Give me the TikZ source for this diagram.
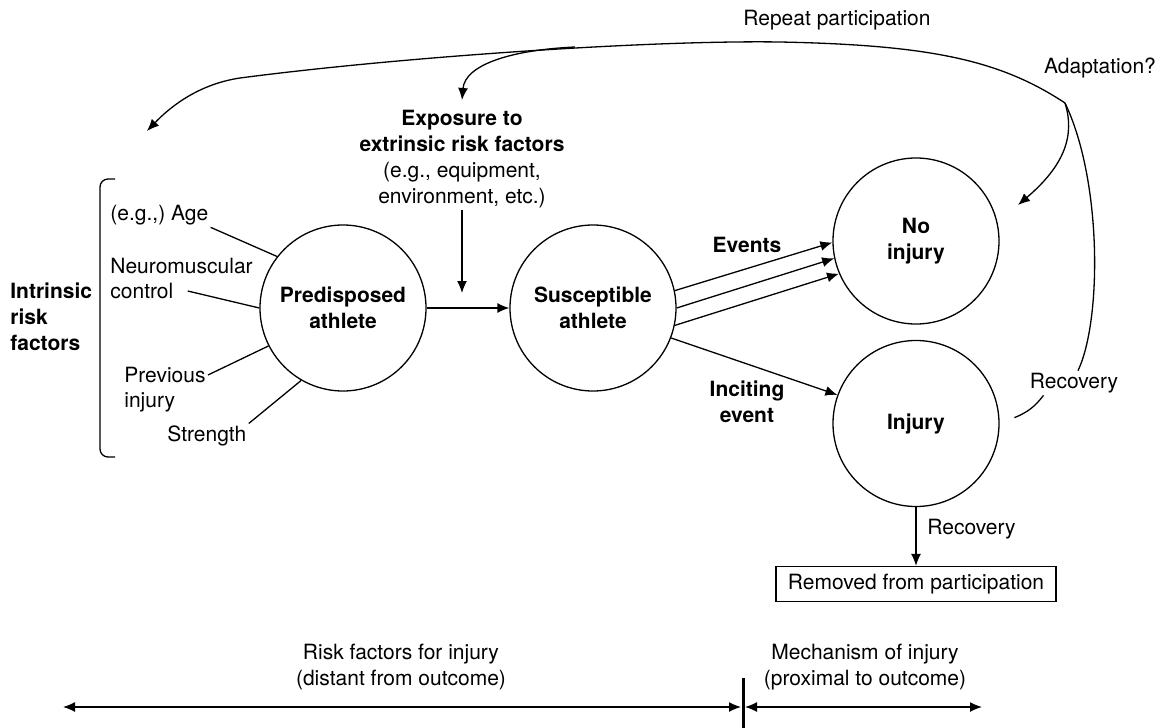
\documentclass[tikz,border=0pt]{standalone}
\usepackage{fontspec}
\setmainfont{TeX Gyre Heros}
\usepackage{tikz}
\usetikzlibrary{arrows.meta}
\usetikzlibrary{positioning}
\newcommand\figfont{\fontsize{10.5}{13}\selectfont}
\tikzset{
    stage/.style={
           circle,
           draw, line width=0.65pt,
           minimum size=83pt,
           inner sep=0pt,
           align=center,
           font=\figfont\bfseries,
           },
}
\tikzset{
    txt/.style={
           inner sep=1pt,
           align=center,
           font=\figfont,
           },
    txtb/.style={
           txt,
           font=\figfont\bfseries,
           },
    outbox/.style={
           draw, line width=0.65pt,
           minimum width=140pt,
           minimum height=17.5pt,
           inner sep=0pt,
           font=\figfont,
           },
    link/.style={
           draw, line width=0.65pt,
           },
    arr/.style={-{Latex[length=6pt,width=5pt]}},
    dbl/.style={{Latex[length=6pt,width=5pt]}-{Latex[length=6pt,width=5pt]}},
}

\begin{document}
\begin{tikzpicture}[x=0.5pt,y=-0.5pt]
\useasboundingbox (0,0) rectangle (1169,728);

\node[stage](pre) at (343,308){Predisposed\\athlete};
\node[stage,right of = pre,node distance=125pt](sus){Susceptible\\athlete};
\node[stage](noinj) at (916,241){No\\injury};
\node[stage,below of = noinj,node distance=91.25pt](inj){Injury};
\node[outbox,below of = inj,node distance=80.25pt](rem){Removed from participation};

\node[txtb,align=left,anchor=west](intr) at (8,317){Intrinsic\\risk\\factors};
\node[txt,anchor=west](age) at (108,215){(e.g.,) Age};
\node[txt,anchor=west](neuro) at (108,266){Neuromuscular};
\node[txt,anchor=west](ctrl) at (108,291){control};
\node[txt,anchor=west](prev) at (122,375){Previous};
\node[txt,anchor=west](previnj) at (122,402){injury};
\node[txt,anchor=west](str) at (165,436){Strength};
\draw[link,rounded corners=4pt] (115,179) -| (100,457) -- (115,457);

\draw[link] (age.south east) -- (pre.142);
\draw[link] ([xshift=6pt]ctrl.east) -- (pre.180);
\draw[link] (prev.east) -- (pre.207);
\draw[link] (str.north east) -- (pre.240);

\node[txt](expo) at (462,159){\textbf{Exposure to}\\\textbf{extrinsic risk factors}\\(e.g., equipment,\\environment, etc.)};
\coordinate (expoin) at (462,293);
\draw[link,arr] (expo.south) -- (expoin);
\draw[link,arr] (pre) -- (sus);

\node[txtb](ev) at (747,245){Events};
\node[txtb](inc) at (747,402){Inciting\\event};
\draw[link,arr] (sus.12) -- (noinj.181);
\draw[link,arr] (sus.0) -- (noinj.192);
\draw[link,arr] (sus.-12) -- (noinj.203);
\draw[link,arr] (sus.-21) -- (inj.160);

\node[txt,anchor=west](rec2) at (925,529){Recovery};
\draw[link,arr] (inj) -- (rem);

\node[txt](rep) at (837,20){Repeat participation};
\node[txt](adapt) at (1100,68){Adaptation?};
\node[txt](rec1) at (1074,383){Recovery};
\coordinate (jn) at (1065,103);
\coordinate (split) at (575,47);
\coordinate (expotop) at (462,100);
\coordinate (noinjin) at (1018,205);
\coordinate (intrtop) at (147,131);
\draw[link] ([xshift=7.5pt]inj.4) to[bend right=15] ([xshift=8pt]rec1.south west);
\draw[link] ([xshift=2pt]rec1.north) .. controls (1102,320) and (1102,180) .. (jn);
\draw[link,arr] (jn) .. controls (1000,60) and (930,45) .. (780,42)
    .. controls (650,40) and (400,57) .. (240,78)
    .. controls (200,84) and (172,105) .. (intrtop);
\draw[link,arr] (split) .. controls (510,50) and (465,65) .. (expotop);
\draw[link,arr] (jn) .. controls (1075,135) and (1065,165) .. (noinjin);

\node[txt](rf) at (401,667){Risk factors for injury\\(distant from outcome)};
\node[txt](mech) at (865,667){Mechanism of injury\\(proximal to outcome)};
\coordinate (tl) at (63,707);
\coordinate (tm) at (743,707);
\coordinate (tr) at (982,707);
\draw[link,dbl] (tl) -- ([xshift=-1pt]tm);
\draw[link,dbl] ([xshift=1pt]tm) -- (tr);
\draw[line width=1.5pt] ([yshift=14.5pt]tm) -- ([yshift=-10.5pt]tm);
\end{tikzpicture}
\end{document}
